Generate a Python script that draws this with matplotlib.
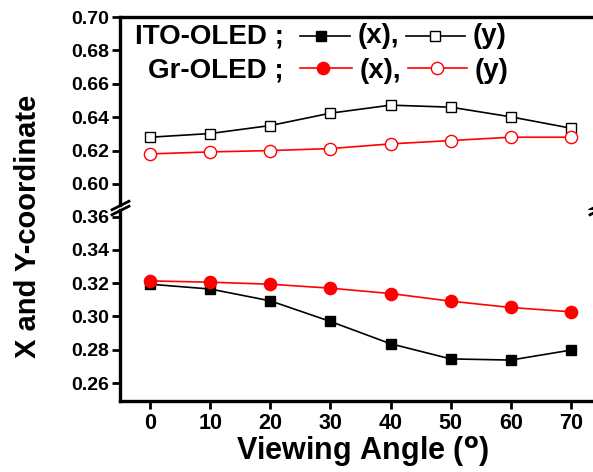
import matplotlib.pyplot as plt
from matplotlib.lines import Line2D

plt.rcParams['font.family'] = ['Liberation Sans', 'DejaVu Sans']
plt.rcParams['font.weight'] = 'bold'

angle = [0, 10, 20, 30, 40, 50, 60, 70]
ito_x = [0.3194, 0.3165, 0.3094, 0.2970, 0.2836, 0.2745, 0.2738, 0.2798]
ito_y = [0.6280, 0.6302, 0.6350, 0.6424, 0.6472, 0.6460, 0.6402, 0.6334]
gr_x = [0.3214, 0.3206, 0.3194, 0.3170, 0.3138, 0.3092, 0.3054, 0.3028]
gr_y = [0.6180, 0.6192, 0.6200, 0.6212, 0.6240, 0.6260, 0.6280, 0.6280]

top_ticks = [0.60, 0.62, 0.64, 0.66, 0.68, 0.70]
bot_ticks = [0.26, 0.28, 0.30, 0.32, 0.34, 0.36]

W, H = 593, 472
fig = plt.figure(figsize=(W / 100, H / 100), dpi=100)

left = 120 / W
width = (598 - 120) / W
ax_top = fig.add_axes([left, 1 - 205 / H, width, (205 - 17) / H])
ax_bot = fig.add_axes([left, 1 - 401 / H, width, (401 - 210) / H])

black_sq = dict(color='black', marker='s', markersize=7.5, lw=1.2,
                markeredgecolor='black', markeredgewidth=1.0)
red_ci = dict(color='red', marker='o', markersize=8.8, lw=1.2,
              markeredgecolor='red', markeredgewidth=1.0)

ax_top.plot(angle, ito_y, markerfacecolor='white', **black_sq)
ax_top.plot(angle, gr_y, markerfacecolor='white', **red_ci)
ax_bot.plot(angle, ito_x, markerfacecolor='black', **black_sq)
ax_bot.plot(angle, gr_x, markerfacecolor='red', **red_ci)

ax_top.set_ylim(0.5874, 0.70)
ax_bot.set_ylim(0.2492, 0.364)
for ax in (ax_top, ax_bot):
    ax.set_xlim(-5, 74.5)
    for s in ax.spines.values():
        s.set_linewidth(2.4)
    ax.tick_params(axis='y', direction='out', length=6, width=2, labelsize=14, pad=1.5)
    ax.tick_params(axis='x', direction='out', length=6, width=2, labelsize=15.5, pad=2.5)

ax_top.spines['bottom'].set_visible(False)
ax_bot.spines['top'].set_visible(False)
ax_top.set_yticks(top_ticks)
ax_top.set_yticklabels(['%.2f' % v for v in top_ticks])
ax_bot.set_yticks(bot_ticks)
ax_bot.set_yticklabels(['%.2f' % v for v in bot_ticks])
ax_top.set_xticks([])
ax_bot.set_xticks(angle)

# break marks
d = .5
kw = dict(marker=[(-1, -d), (1, d)], markersize=14, linestyle='none',
          color='k', mec='k', mew=2, clip_on=False)
ax_top.plot([0, 1], [0, 0], transform=ax_top.transAxes, **kw)
ax_bot.plot([0, 1], [1, 1], transform=ax_bot.transAxes, **kw)

fig.text(236 / W, 1 - 460 / H, 'Viewing Angle ($\\mathbf{^o}$)', ha='left', va='baseline',
         fontsize=22, fontweight='bold')
fig.text(28 / W, 1 - 226 / H, 'X and Y-coordinate', ha='center', va='center',
         rotation=90, fontsize=21, fontweight='bold')

# legend drawn by hand
rows = [
    ('ITO-OLED ;', 43, 36, 'black', 's', 300, 350, 321, 406, 465, 435, 358, 473),
    ('Gr-OLED ;', 78, 68, 'red', 'o', 300, 352, 323, 408, 467, 437, 360, 475),
]
for label, yb, yl, col, mk, a0, a1, m1, b0, b1, m2, xt, yt in rows:
    yb = 1 - yb / H
    yl = 1 - yl / H
    fig.text(284 / W, yb, label, ha='right', va='baseline', fontsize=20, fontweight='bold')
    ms = 7.5 if mk == 's' else 8.8
    for s0, s1, mx, fc in ((a0, a1, m1, col), (b0, b1, m2, 'white')):
        fig.add_artist(Line2D([s0 / W, s1 / W], [yl, yl], color=col, lw=1.2,
                              transform=fig.transFigure))
        fig.add_artist(Line2D([mx / W], [yl], color=col, marker=mk, markersize=ms,
                              markerfacecolor=fc, markeredgecolor=col,
                              transform=fig.transFigure))
    fig.text(xt / W, yb, '(x),', ha='left', va='baseline', fontsize=20, fontweight='bold')
    fig.text(yt / W, yb, '(y)', ha='left', va='baseline', fontsize=20, fontweight='bold')

fig.savefig('out.png', dpi=100)
